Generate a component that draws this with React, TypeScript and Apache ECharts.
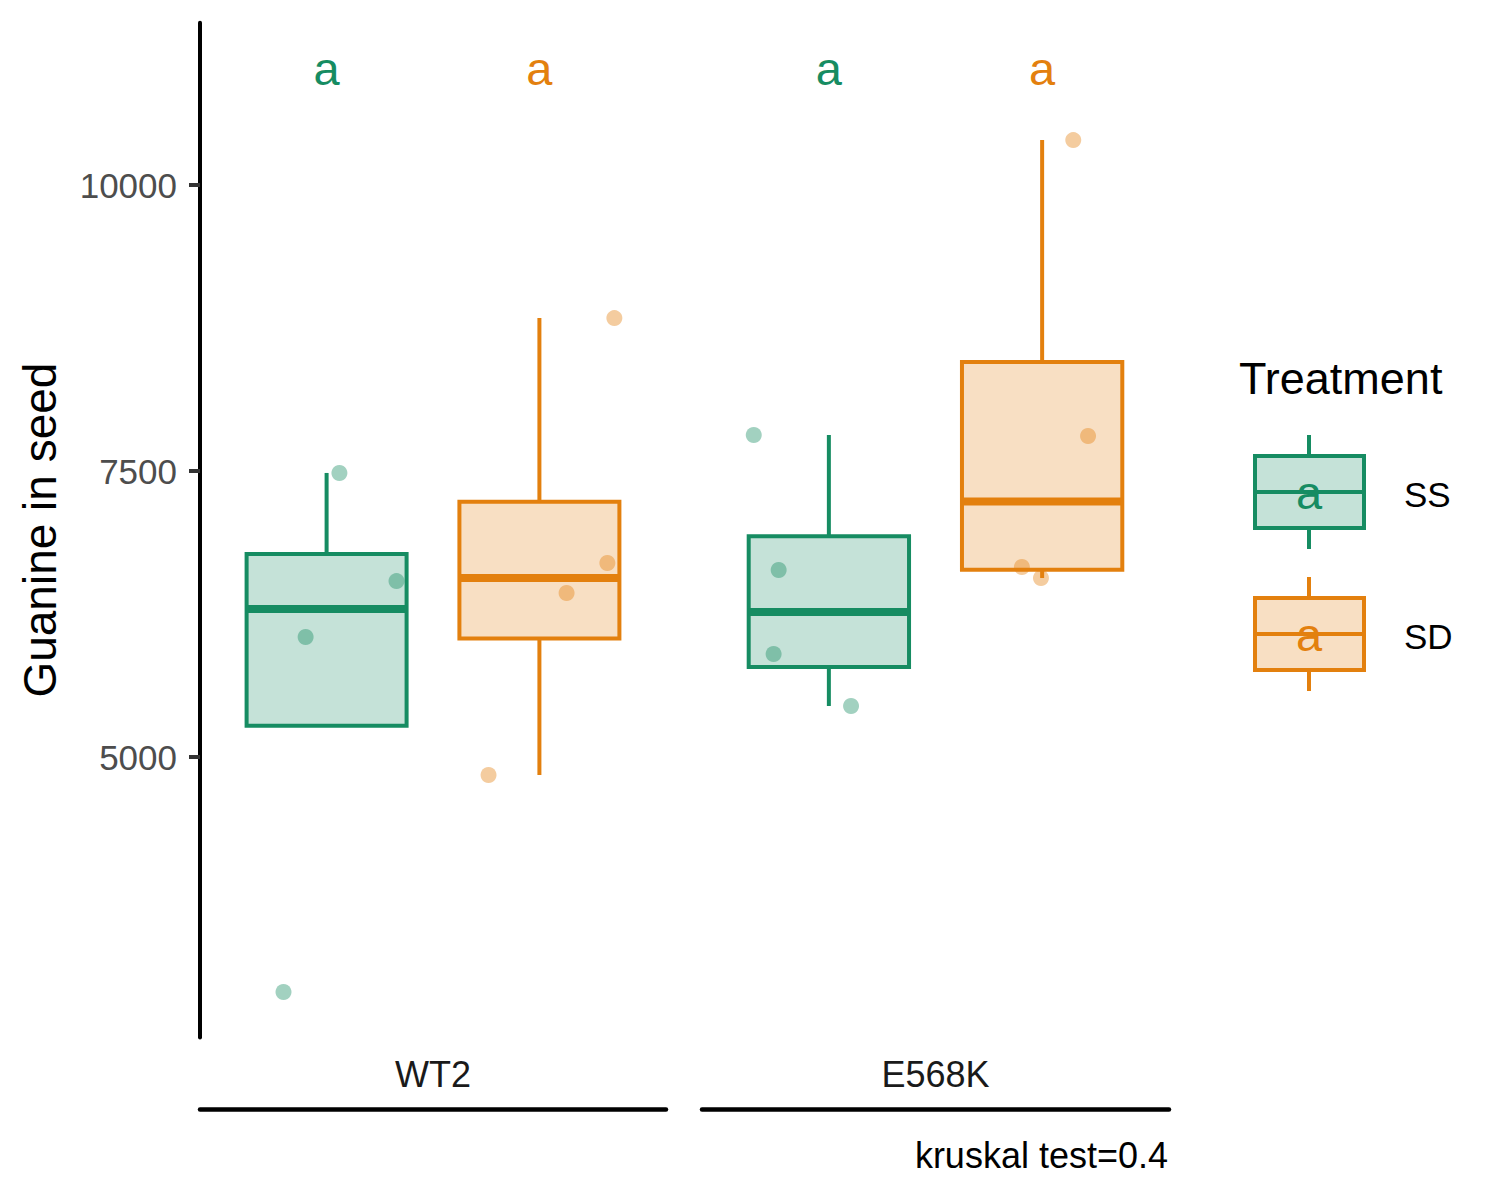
import React, { useEffect, useRef } from "react";
import * as echarts from "echarts";

const FONT = "'Liberation Sans', Arial, Helvetica, sans-serif";

// facets (genotype) and fill groups (treatment)
const facets = ["WT2", "E568K"];
const treatments = ["SS", "SD"];
const treatmentColors = ["#168C62", "#E3800E"];
const treatmentFills = ["rgba(22,140,98,0.25)", "rgba(227,128,14,0.25)"];
const pointColors = ["rgba(22,140,98,0.5)", "rgba(227,128,14,0.5)"];

// Guanine in seed, one value per plant
const wt2SS = [7483, 6538, 6049, 2946];
const wt2SD = [8837, 6696, 6434, 4843];
const e568kSS = [7815, 6635, 5900, 5446];
const e568kSD = [10393, 7806, 6661, 6565];

// horizontal jitter of each point, in x-axis units
const wt2SSJitter = [0.033, 0.18, -0.054, -0.111];
const wt2SDJitter = [0.193, 0.175, 0.07, -0.131];
const e568kSSJitter = [-0.193, -0.129, -0.142, 0.057];
const e568kSDJitter = [0.08, 0.118, -0.052, -0.003];

// compact letter display above each box
const wt2Letters = ["a", "a"];
const e568kLetters = ["a", "a"];
const letterY = 11015;

const yTicks = [5000, 7500, 10000];
const yMin = 2548;
const yMax = 11419;
const caption = "kruskal test=0.4";

const groupValues = [
  [wt2SS, wt2SD],
  [e568kSS, e568kSD],
];
const groupJitter = [
  [wt2SSJitter, wt2SDJitter],
  [e568kSSJitter, e568kSDJitter],
];
const groupLetters = [wt2Letters, e568kLetters];

// layout
const dodge = 0.274;
const boxHalf = 0.206;

const quantile = (sorted: number[], p: number) => {
  const h = (sorted.length - 1) * p;
  const i = Math.floor(h);
  const next = i + 1 < sorted.length ? sorted[i + 1] : sorted[i];
  return sorted[i] + (h - i) * (next - sorted[i]);
};

// ggplot-style box stats: whiskers reach the furthest point within 1.5 IQR
const boxStats = (values: number[]) => {
  const s = [...values].sort((a, b) => a - b);
  const q1 = quantile(s, 0.25);
  const med = quantile(s, 0.5);
  const q3 = quantile(s, 0.75);
  const iqr = q3 - q1;
  const inside = s.filter((v) => v >= q1 - 1.5 * iqr && v <= q3 + 1.5 * iqr);
  return [inside[0], q1, med, q3, inside[inside.length - 1]];
};

const App: React.FC = () => {
  const chartRef = useRef<HTMLDivElement>(null);

  useEffect(() => {
    if (!chartRef.current) return;
    const chart = echarts.init(chartRef.current, undefined, { renderer: "svg" });

    const boxSeries: any[] = [];
    const pointSeries: any[] = [];
    const letterSeries: any[] = [];

    facets.forEach((facet, f) => {
      treatments.forEach((tr, t) => {
        const xc = t === 0 ? -dodge : dodge;
        const values = groupValues[f][t];
        const color = treatmentColors[t];
        const fill = treatmentFills[t];

        boxSeries.push({
          type: "custom",
          name: tr,
          xAxisIndex: f * 2,
          yAxisIndex: f,
          silent: true,
          data: [[xc, ...boxStats(values)]],
          encode: { x: 0, y: [1, 2, 3, 4, 5] },
          renderItem: (params: any, api: any) => {
            const x = api.value(0);
            const lo = api.value(1);
            const q1 = api.value(2);
            const med = api.value(3);
            const q3 = api.value(4);
            const hi = api.value(5);
            const tl = api.coord([x - boxHalf, q3]);
            const br = api.coord([x + boxHalf, q1]);
            const cx = api.coord([x, med])[0];
            const yMed = api.coord([x, med])[1];
            const yLo = api.coord([x, Math.min(lo, q1)])[1];
            const yHi = api.coord([x, Math.max(hi, q3)])[1];
            const line = { stroke: color, lineWidth: 4 };
            return {
              type: "group",
              children: [
                { type: "line", shape: { x1: cx, y1: tl[1], x2: cx, y2: yHi }, style: line },
                { type: "line", shape: { x1: cx, y1: br[1], x2: cx, y2: yLo }, style: line },
                {
                  type: "rect",
                  shape: { x: tl[0], y: tl[1], width: br[0] - tl[0], height: br[1] - tl[1] },
                  style: { fill, stroke: color, lineWidth: 4 },
                },
                { type: "line", shape: { x1: tl[0], y1: yMed, x2: br[0], y2: yMed }, style: { stroke: color, lineWidth: 8 } },
              ],
            };
          },
        });

        pointSeries.push({
          type: "scatter",
          name: tr,
          xAxisIndex: f * 2,
          yAxisIndex: f,
          silent: true,
          symbolSize: 16,
          itemStyle: { color: pointColors[t] },
          data: values.map((v, i) => [xc + groupJitter[f][t][i], v]),
        });

        letterSeries.push({
          type: "custom",
          name: tr,
          xAxisIndex: f * 2,
          yAxisIndex: f,
          silent: true,
          data: [[xc, letterY]],
          renderItem: (params: any, api: any) => {
            const p = api.coord([api.value(0), api.value(1)]);
            return {
              type: "text",
              x: p[0],
              y: p[1],
              style: {
                text: groupLetters[f][t],
                fill: color,
                fontSize: 47,
                fontFamily: FONT,
                align: "center",
                verticalAlign: "middle",
                textAlign: "center",
                textVerticalAlign: "middle",
              },
            };
          },
        });
      });
    });

    const gridLeft = [200, 702];
    const gridWidth = [466, 467];

    const xAxes: any[] = [];
    facets.forEach((facet, f) => {
      xAxes.push({ type: "value", gridIndex: f, min: -0.6, max: 0.6, show: false });
      xAxes.push({
        type: "category",
        gridIndex: f,
        data: [facet],
        position: "bottom",
        offset: 71.5,
        axisLine: { show: true, onZero: false, lineStyle: { color: "#000", width: 4.5 } },
        axisTick: { show: false },
        axisLabel: { inside: true, margin: 17, fontSize: 36, color: "#1A1A1A", fontFamily: FONT },
        splitLine: { show: false },
      });
    });

    const legendKey = (t: number, cy: number) => ({
      type: "group",
      children: [
        { type: "line", shape: { x1: 1309, y1: cy - 57, x2: 1309, y2: cy - 36 }, style: { stroke: treatmentColors[t], lineWidth: 4 } },
        { type: "line", shape: { x1: 1309, y1: cy + 36, x2: 1309, y2: cy + 57 }, style: { stroke: treatmentColors[t], lineWidth: 4 } },
        {
          type: "rect",
          shape: { x: 1255, y: cy - 36, width: 109, height: 72 },
          style: { fill: treatmentFills[t], stroke: treatmentColors[t], lineWidth: 4 },
        },
        { type: "line", shape: { x1: 1255, y1: cy, x2: 1364, y2: cy }, style: { stroke: treatmentColors[t], lineWidth: 4 } },
        {
          type: "text",
          x: 1309,
          y: cy,
          style: {
            text: "a",
            fill: treatmentColors[t],
            fontSize: 47,
            fontFamily: FONT,
            textAlign: "center",
            textVerticalAlign: "middle",
          },
        },
        {
          type: "text",
          x: 1404,
          y: cy + 2,
          style: {
            text: treatments[t],
            fill: "#000",
            fontSize: 35,
            fontFamily: FONT,
            textAlign: "left",
            textVerticalAlign: "middle",
          },
        },
      ],
    });

    const option: any = {
      animation: false,
      backgroundColor: "#fff",
      textStyle: { fontFamily: FONT },
      grid: facets.map((_, f) => ({
        left: gridLeft[f],
        width: gridWidth[f],
        top: 22.7,
        height: 1014.8,
        containLabel: false,
      })),
      xAxis: xAxes,
      yAxis: [
        {
          type: "value",
          gridIndex: 0,
          min: yMin,
          max: yMax,
          name: "Guanine in seed",
          nameLocation: "middle",
          nameGap: 137,
          nameTextStyle: { fontSize: 46, color: "#000", fontFamily: FONT },
          axisLine: { show: true, onZero: false, lineStyle: { color: "#000", width: 4 } },
          axisTick: { show: true, length: 11, customValues: yTicks, lineStyle: { color: "#333", width: 4 } },
          axisLabel: {
            customValues: yTicks,
            formatter: (v: number) => String(v),
            fontSize: 35,
            color: "#4D4D4D",
            margin: 23,
            fontFamily: FONT,
          },
          splitLine: { show: false },
        },
        { type: "value", gridIndex: 1, min: yMin, max: yMax, show: false, splitLine: { show: false } },
      ],
      series: [...boxSeries, ...pointSeries, ...letterSeries],
      graphic: [
        {
          type: "text",
          x: 1239,
          y: 378,
          style: {
            text: "Treatment",
            fill: "#000",
            fontSize: 45,
            fontFamily: FONT,
            textAlign: "left",
            textVerticalAlign: "middle",
          },
        },
        legendKey(0, 492),
        legendKey(1, 634),
        {
          type: "text",
          x: 1168,
          y: 1155,
          style: {
            text: caption,
            fill: "#000",
            fontSize: 36,
            fontFamily: FONT,
            textAlign: "right",
            textVerticalAlign: "middle",
          },
        },
      ],
    };

    chart.setOption(option);
    return () => chart.dispose();
  }, []);

  return (
    <div
      ref={chartRef}
      style={{ position: "absolute", left: 0, top: 0, width: 1500, height: 1200, background: "#fff" }}
    />
  );
};

export default App;
